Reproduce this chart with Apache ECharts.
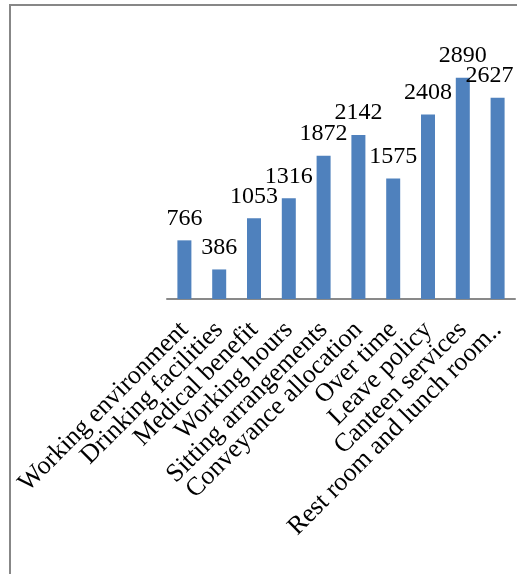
<!DOCTYPE html>
<html>
<head>
<meta charset="utf-8">
<script src="https://cdn.jsdelivr.net/npm/echarts@6/dist/echarts.min.js"></script>
<style>
html, body { margin: 0; padding: 0; background: #fff; }
#chart { width: 517px; height: 574px; }
</style>
</head>
<body>
<div id="chart"></div>
<script>
var categories = ['Working environment', 'Drinking facilities', 'Medical benefit', 'Working hours',
    'Sitting arrangements', 'Conveyance allocation', 'Over time', 'Leave policy',
    'Canteen services', 'Rest room and lunch room..'];
var values = [766, 386, 1053, 1316, 1872, 2142, 1575, 2408, 2890, 2627];

var serif = '"Liberation Serif", "Times New Roman", serif';
var chart = echarts.init(document.getElementById('chart'));

// last label sits a bit left so it stays inside the frame
var barData = values.map(function (v, i) {
    if (i === values.length - 1) {
        return { value: v, label: { offset: [-8, 0] } };
    }
    return v;
});

var option = {
    animation: false,
    graphic: [{
        type: 'rect',
        shape: { x: 10, y: 5, width: 600, height: 700 },
        style: { fill: 'none', stroke: '#878787', lineWidth: 2 },
        silent: true
    }],
    grid: {
        left: 167,
        right: 2,
        top: 31,
        bottom: 275
    },
    xAxis: {
        type: 'category',
        data: categories,
        axisLine: { show: true, lineStyle: { color: '#898989', width: 2 } },
        axisTick: { show: false },
        axisLabel: {
            rotate: 45,
            interval: 0,
            margin: 27,
            color: '#000',
            fontSize: 26,
            fontFamily: serif
        }
    },
    yAxis: {
        type: 'value',
        min: 0,
        max: 3500,
        show: false,
        splitLine: { show: false }
    },
    series: [{
        type: 'bar',
        data: barData,
        barWidth: 14,
        itemStyle: { color: '#4F81BD' },
        label: {
            show: true,
            position: 'top',
            distance: 10,
            color: '#000',
            fontSize: 24,
            fontFamily: serif
        }
    }]
};
chart.setOption(option);
</script>
</body>
</html>
